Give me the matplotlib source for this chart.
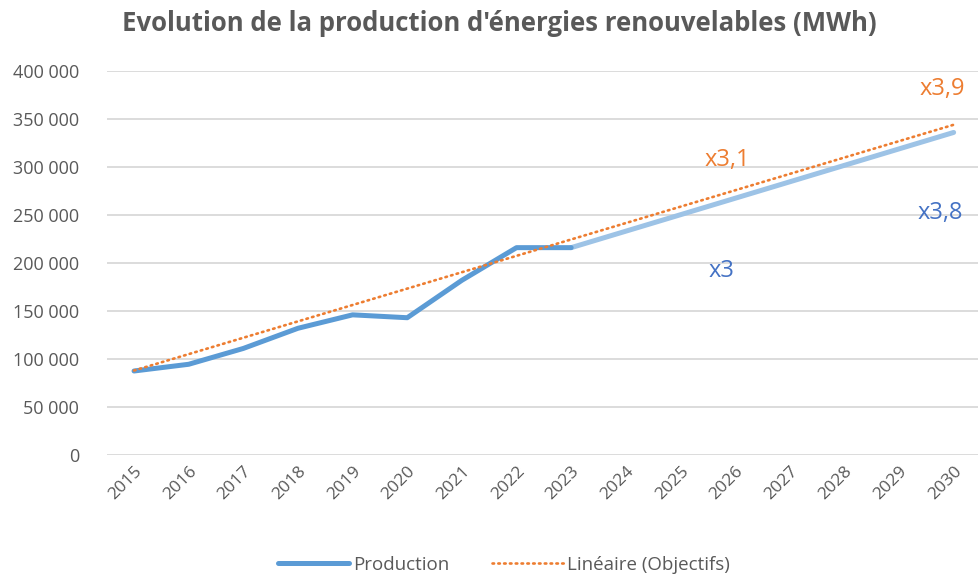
import numpy as np
import matplotlib.pyplot as plt
from matplotlib.ticker import FuncFormatter

# Données
annees = list(range(2015, 2024))
production = [87500, 94500, 111000, 132000, 146000, 143000, 182000, 216000, 216000]

# Projection 2023 -> 2030
annees_proj = [2023, 2030]
production_proj = [216000, 336000]

# Tendance linéaire (objectifs)
annees_obj = [2015, 2030]
objectifs = [88000, 344000]

# Etiquettes
labels_orange = [("x3,1", 2025.85, 307000), ("x3,9", 2029.8, 381000)]
labels_bleu = [("x3", 2025.75, 192000), ("x3,8", 2029.75, 252000)]

plt.rcParams['font.family'] = ['Open Sans', 'DejaVu Sans']

fig = plt.figure(figsize=(9.79, 5.75), dpi=100)
ax = fig.add_axes([0.109, 0.2087, 0.893, 0.6678])

ax.plot(annees_proj, production_proj, color='#9DC3E6', linewidth=3.6,
        solid_capstyle='round')
ax.plot(annees, production, color='#5B9BD5', linewidth=3.6,
        solid_capstyle='round', solid_joinstyle='round', label='Production')
ax.plot(annees_obj, objectifs, color='#ED7D31', linewidth=1.9,
        linestyle=(0, (0.6, 1.6)), dash_capstyle='round',
        label='Linéaire (Objectifs)')

for txt, x, y in labels_orange:
    ax.text(x, y, txt, color='#ED7D31', fontsize=17, ha='center', va='center')
for txt, x, y in labels_bleu:
    ax.text(x, y, txt, color='#4472C4', fontsize=17, ha='center', va='center')

ax.set_xlim(2014.5, 2030.5)
ax.set_ylim(0, 400000)
ax.set_yticks(range(0, 400001, 50000))
ax.yaxis.set_major_formatter(FuncFormatter(lambda v, p: f"{int(v):,}".replace(",", " ")))
ax.set_xticks(range(2015, 2031))
ax.tick_params(axis='x', rotation=45, labelsize=12.5, colors='#595959', length=0, pad=6)
ax.tick_params(axis='y', labelsize=13, colors='#595959', length=0, pad=20)
for lab in ax.get_xticklabels():
    lab.set_ha('right')
    lab.set_rotation_mode('anchor')

ax.grid(axis='y', color='#D9D9D9', linewidth=1.3)
ax.set_axisbelow(True)
for s in ax.spines.values():
    s.set_visible(False)

fig.suptitle("Evolution de la production d'énergies renouvelables (MWh)",
             x=0.51, y=0.982, fontsize=18.5, fontweight='bold', color='#595959')

fig.legend(loc='lower center', bbox_to_anchor=(0.515, -0.027), ncol=2, frameon=False,
           fontsize=13.5, labelcolor='#595959', handlelength=3.8, columnspacing=2.3,
           handletextpad=0.2)

fig.savefig('out.png', dpi=100)
